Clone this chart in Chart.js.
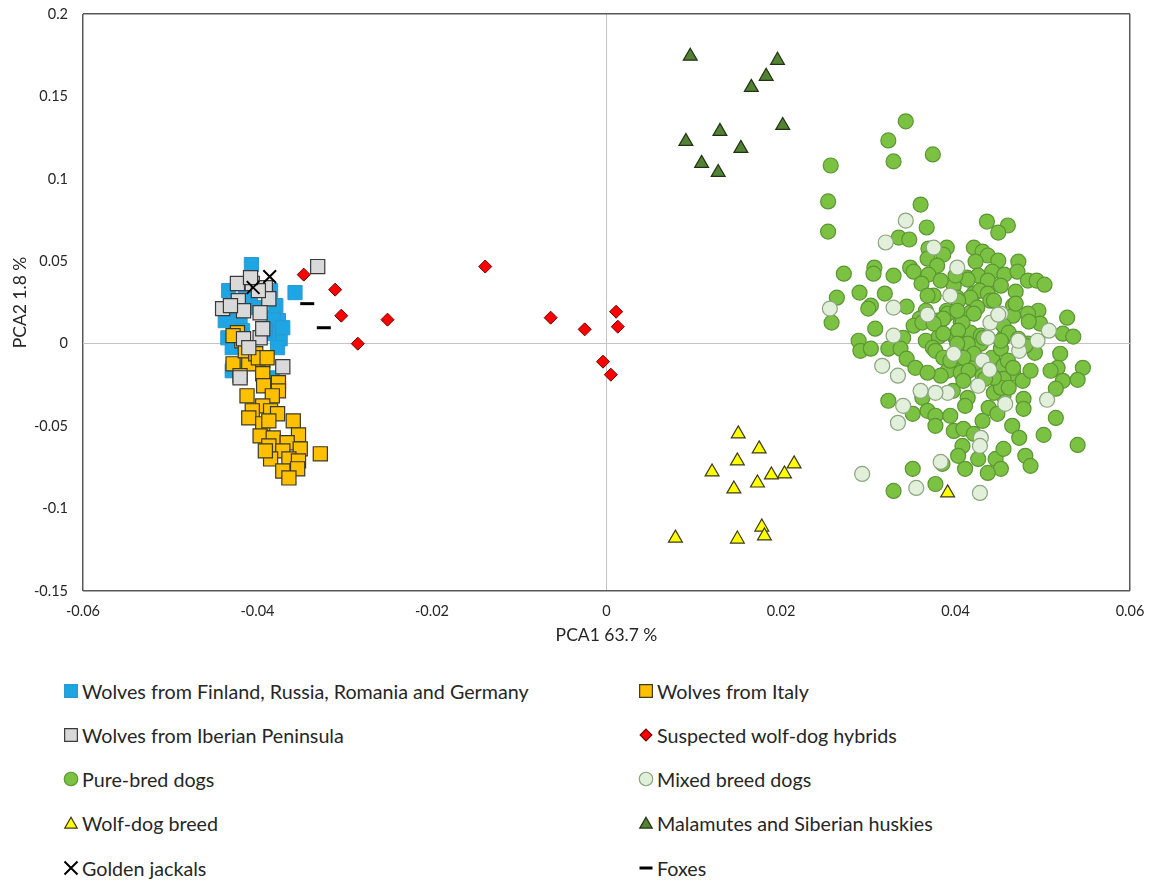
<!DOCTYPE html>
<html>
<head>
<meta charset="UTF-8">
<title>PCA - wolves, dogs and hybrids</title>
<script src="https://cdn.jsdelivr.net/npm/chart.js"></script>
<style>
  body { margin: 0; background: #fff; font-family: Lato, sans-serif; color: #262626; }
  #wrap { position: relative; width: 1150px; height: 881px; }
  #pca { position: absolute; left: 0; top: 0; }
  .item { position: absolute; display: flex; align-items: center; height: 26px; font-size: 19.7px; white-space: nowrap; }
  .item canvas { margin-right: 1px; }
</style>
</head>
<body>
<div id="wrap">
  <canvas id="pca" width="1150" height="660"></canvas>
  <div id="legend"></div>
</div>
<script>
// PCA1 / PCA2 scores
const wolvesNorth = [
  [-0.0407, 0.0480], [-0.0433, 0.0322], [-0.0437, 0.0140], [-0.0434, 0.0036], [-0.0429, -0.0024],
  [-0.0374, 0.0030], [-0.0376, 0.0140], [-0.0382, 0.0158], [-0.0387, 0.0061], [-0.0377, -0.0024],
  [-0.0383, -0.0207], [-0.0428, -0.0146], [-0.0408, 0.0261], [-0.0399, 0.0219], [-0.0391, 0.0079],
  [-0.0420, 0.0158], [-0.0371, 0.0097], [-0.0428, 0.0219], [-0.0417, 0.0079], [-0.0429, -0.0164],
  [-0.0357, 0.0310], [-0.0379, 0.0231], [-0.0414, 0.0352], [-0.0385, 0.0322]
];
const wolvesItaly = [
  [-0.0428, -0.0122], [-0.0410, -0.0122], [-0.0394, -0.0103], [-0.0394, -0.0182], [-0.0420, -0.0194],
  [-0.0376, -0.0237], [-0.0393, -0.0255], [-0.0412, -0.0316], [-0.0376, -0.0286], [-0.0383, -0.0316],
  [-0.0394, -0.0377], [-0.0406, -0.0407], [-0.0385, -0.0407], [-0.0377, -0.0425], [-0.0410, -0.0450],
  [-0.0394, -0.0486], [-0.0359, -0.0468], [-0.0387, -0.0468], [-0.0397, -0.0559], [-0.0382, -0.0571],
  [-0.0353, -0.0553], [-0.0366, -0.0601], [-0.0387, -0.0620], [-0.0351, -0.0638], [-0.0328, -0.0668],
  [-0.0371, -0.0650], [-0.0385, -0.0699], [-0.0364, -0.0699], [-0.0353, -0.0711], [-0.0371, -0.0772],
  [-0.0354, -0.0759], [-0.0364, -0.0814], [-0.0391, -0.0650], [-0.0423, 0.0067], [-0.0418, 0.0018],
  [-0.0414, -0.0043], [-0.0402, -0.0061], [-0.0399, -0.0085], [-0.0389, -0.0085], [-0.0428, 0.0049]
];
const wolvesIberia = [
  [-0.0423, 0.0365], [-0.0406, 0.0365], [-0.0391, 0.0340], [-0.0387, 0.0273], [-0.0422, 0.0261],
  [-0.0440, 0.0213], [-0.0416, 0.0200], [-0.0397, 0.0188], [-0.0431, 0.0231], [-0.0397, 0.0036],
  [-0.0416, 0.0030], [-0.0410, -0.0024], [-0.0371, -0.0140], [-0.0420, -0.0207], [-0.0399, 0.0322],
  [-0.0408, 0.0401], [-0.0394, 0.0091], [-0.0331, 0.0468]
];
const hybrids = [
  [-0.0347, 0.0419], [-0.0311, 0.0328], [-0.0304, 0.0170], [-0.0251, 0.0146], [-0.0285, 0.0000],
  [-0.0139, 0.0468], [-0.0064, 0.0158], [-0.0025, 0.0087], [0.0011, 0.0194], [0.0013, 0.0103],
  [-0.0004, -0.0109], [0.0005, -0.0188]
];
const pureBred = [
  [0.0343, 0.1349], [0.0323, 0.1233], [0.0257, 0.1081], [0.0329, 0.1106], [0.0374, 0.1148],
  [0.0254, 0.0863], [0.0360, 0.0844], [0.0254, 0.0680], [0.0367, 0.0705], [0.0436, 0.0741],
  [0.0460, 0.0717], [0.0449, 0.0674], [0.0335, 0.0644], [0.0347, 0.0632], [0.0369, 0.0577],
  [0.0390, 0.0583], [0.0386, 0.0541], [0.0421, 0.0583], [0.0431, 0.0559], [0.0437, 0.0535],
  [0.0423, 0.0498], [0.0449, 0.0504], [0.0472, 0.0498], [0.0368, 0.0516], [0.0379, 0.0474],
  [0.0272, 0.0425], [0.0307, 0.0462], [0.0306, 0.0425], [0.0329, 0.0413], [0.0348, 0.0462],
  [0.0352, 0.0437], [0.0369, 0.0419], [0.0413, 0.0401], [0.0426, 0.0413], [0.0442, 0.0437],
  [0.0456, 0.0419], [0.0471, 0.0437], [0.0483, 0.0383], [0.0493, 0.0383], [0.0502, 0.0358],
  [0.0361, 0.0365], [0.0398, 0.0352], [0.0414, 0.0389], [0.0437, 0.0383], [0.0290, 0.0310],
  [0.0319, 0.0304], [0.0264, 0.0279], [0.0375, 0.0292], [0.0421, 0.0304], [0.0428, 0.0322],
  [0.0437, 0.0304], [0.0469, 0.0316], [0.0528, 0.0158], [0.0495, 0.0200], [0.0483, 0.0182],
  [0.0466, 0.0231], [0.0440, 0.0261], [0.0417, 0.0279], [0.0402, 0.0279], [0.0366, 0.0200],
  [0.0359, 0.0152], [0.0352, 0.0109], [0.0344, 0.0225], [0.0390, 0.0200], [0.0403, 0.0261],
  [0.0406, 0.0128], [0.0417, 0.0188], [0.0425, 0.0219], [0.0455, 0.0158], [0.0466, 0.0170],
  [0.0523, 0.0061], [0.0535, 0.0043], [0.0497, 0.0122], [0.0484, 0.0134], [0.0340, 0.0036],
  [0.0366, 0.0018], [0.0381, 0.0043], [0.0400, 0.0036], [0.0417, 0.0067], [0.0429, 0.0049],
  [0.0455, 0.0036], [0.0483, 0.0000], [0.0491, -0.0055], [0.0520, -0.0061], [0.0323, -0.0030],
  [0.0337, -0.0030], [0.0374, -0.0024], [0.0429, 0.0000], [0.0409, -0.0024], [0.0258, 0.0128],
  [0.0303, 0.0231], [0.0300, 0.0213], [0.0308, 0.0091], [0.0289, 0.0018], [0.0291, -0.0043],
  [0.0303, -0.0030], [0.0344, -0.0091], [0.0354, -0.0146], [0.0323, -0.0346], [0.0351, -0.0425],
  [0.0362, 0.0128], [0.0379, 0.0140], [0.0391, 0.0182], [0.0377, -0.0043], [0.0386, -0.0085],
  [0.0400, 0.0049], [0.0414, 0.0000], [0.0421, 0.0182], [0.0408, 0.0128], [0.0397, -0.0134],
  [0.0391, -0.0164], [0.0406, -0.0176], [0.0421, -0.0146], [0.0442, -0.0085], [0.0452, -0.0030],
  [0.0455, -0.0134], [0.0466, -0.0182], [0.0480, -0.0012], [0.0469, 0.0243], [0.0517, -0.0146],
  [0.0509, -0.0164], [0.0523, -0.0225], [0.0515, -0.0273], [0.0546, -0.0146], [0.0540, -0.0219],
  [0.0515, -0.0450], [0.0501, -0.0553], [0.0540, -0.0614], [0.0477, -0.0225], [0.0486, -0.0164],
  [0.0478, -0.0334], [0.0478, -0.0395], [0.0455, -0.0316], [0.0444, -0.0298], [0.0438, -0.0389],
  [0.0448, -0.0425], [0.0431, -0.0468], [0.0414, -0.0328], [0.0411, -0.0377], [0.0397, -0.0286],
  [0.0362, -0.0328], [0.0368, -0.0407], [0.0377, -0.0437], [0.0377, -0.0498], [0.0394, -0.0437],
  [0.0398, -0.0529], [0.0409, -0.0516], [0.0421, -0.0547], [0.0408, -0.0620], [0.0403, -0.0680],
  [0.0411, -0.0759], [0.0426, -0.0699], [0.0446, -0.0699], [0.0455, -0.0638], [0.0452, -0.0759],
  [0.0437, -0.0784], [0.0465, -0.0498], [0.0473, -0.0571], [0.0480, -0.0680], [0.0486, -0.0741],
  [0.0385, -0.0729], [0.0351, -0.0759], [0.0377, -0.0851], [0.0329, -0.0893], [0.0444, 0.0261],
  [0.0402, 0.0200], [0.0386, 0.0152], [0.0403, 0.0079], [0.0455, 0.0109], [0.0461, 0.0067],
  [0.0472, 0.0030], [0.0452, 0.0018], [0.0432, 0.0036], [0.0421, -0.0061], [0.0409, -0.0085],
  [0.0415, -0.0164], [0.0431, -0.0194], [0.0455, -0.0213], [0.0452, -0.0267], [0.0444, -0.0207],
  [0.0461, -0.0267], [0.0368, 0.0292], [0.0375, 0.0122], [0.0386, 0.0061], [0.0402, 0.0000],
  [0.0394, -0.0103], [0.0460, -0.0103], [0.0466, -0.0146], [0.0434, -0.0213], [0.0409, -0.0225],
  [0.0383, -0.0194], [0.0368, -0.0176], [0.0383, 0.0383], [0.0400, 0.0413], [0.0452, 0.0352]
];
const mixedBreed = [
  [0.0343, 0.0747], [0.0320, 0.0614], [0.0375, 0.0583], [0.0402, 0.0462], [0.0394, 0.0292],
  [0.0256, 0.0213], [0.0329, 0.0219], [0.0329, 0.0049], [0.0316, -0.0134], [0.0334, -0.0194],
  [0.0340, -0.0377], [0.0334, -0.0480], [0.0368, 0.0176], [0.0398, -0.0061], [0.0437, 0.0036],
  [0.0440, 0.0128], [0.0452, 0.0182], [0.0431, -0.0103], [0.0439, -0.0158], [0.0473, -0.0043],
  [0.0494, 0.0018], [0.0507, 0.0079], [0.0505, -0.0340], [0.0457, -0.0365], [0.0426, -0.0255],
  [0.0391, -0.0298], [0.0377, -0.0298], [0.0360, -0.0286], [0.0429, -0.0571], [0.0428, -0.0620],
  [0.0383, -0.0717], [0.0293, -0.0790], [0.0355, -0.0875], [0.0428, -0.0905], [0.0449, 0.0176],
  [0.0472, 0.0018]
];
const wolfDogBreed = [
  [0.0151, -0.0547], [0.0175, -0.0638], [0.0150, -0.0711], [0.0121, -0.0778], [0.0215, -0.0729],
  [0.0204, -0.0790], [0.0189, -0.0796], [0.0173, -0.0845], [0.0146, -0.0881], [0.0391, -0.0905],
  [0.0178, -0.1112], [0.0181, -0.1166], [0.0079, -0.1179], [0.0150, -0.1185]
];
const huskies = [
  [0.0096, 0.1744], [0.0196, 0.1719], [0.0183, 0.1622], [0.0166, 0.1555], [0.0202, 0.1324],
  [0.0130, 0.1288], [0.0091, 0.1227], [0.0154, 0.1185], [0.0109, 0.1094], [0.0128, 0.1039]
];
const jackals = [[-0.0405, 0.0341], [-0.0386, 0.0407]];
const foxes = [[-0.0343, 0.0243], [-0.0324, 0.0097]];

const xTicks = [-0.06, 0.06, 0.02];
const yTicks = [-0.15, 0.2, 0.05];

const toXY = arr => arr.map(p => ({ x: p[0], y: p[1] }));

// legend order = row by row, two columns
const groups = [
  { label: 'Wolves from Finland, Russia, Romania and Germany', data: wolvesNorth, style: 'rect', r: 10, fill: '#1ea5e3', line: '#2b98cf', w: 1, order: 5 },
  { label: 'Wolves from Italy', data: wolvesItaly, style: 'rect', r: 10, fill: '#ffc000', line: '#3a3a2a', w: 1.2, order: 4 },
  { label: 'Wolves from Iberian Peninsula', data: wolvesIberia, style: 'rect', r: 10, fill: '#d9d9d9', line: '#3a3a3a', w: 1.2, order: 3 },
  { label: 'Suspected wolf-dog hybrids', data: hybrids, style: 'rectRot', r: 6.5, fill: '#ff0000', line: '#6b0000', w: 1, order: 2 },
  { label: 'Pure-bred dogs', data: pureBred, style: 'circle', r: 7.5, fill: '#7cc242', line: '#5b9634', w: 1.2, order: 9 },
  { label: 'Mixed breed dogs', data: mixedBreed, style: 'circle', r: 7.5, fill: '#e2efda', line: '#8ba67e', w: 1.2, order: 8 },
  { label: 'Wolf-dog breed', data: wolfDogBreed, style: 'triangle', r: 8, fill: '#ffff00', line: '#3a3a1a', w: 1.2, order: 6 },
  { label: 'Malamutes and Siberian huskies', data: huskies, style: 'triangle', r: 8, fill: '#548235', line: '#1f3310', w: 1.2, order: 7 },
  { label: 'Golden jackals', data: jackals, style: 'crossRot', r: 9, fill: '#000', line: '#000', w: 2, order: 0 },
  { label: 'Foxes', data: foxes, style: 'line', r: 7, fill: '#000', line: '#000', w: 3, order: 1 }
];

const isZero = v => Math.abs(v) < 1e-9;
function gridColor(c) {
  const n = c.scale.ticks.length - 1;
  if (c.index === 0 || c.index === n) return '#595959';
  if (isZero(c.tick.value)) return '#c4c4c4';
  return 'rgba(0,0,0,0)';
}
function gridWidth(c) {
  const n = c.scale.ticks.length - 1;
  return (c.index === 0 || c.index === n) ? 1.5 : 1;
}
const fmt = v => isZero(v) ? '0' : String(+v.toFixed(4));

new Chart(document.getElementById('pca'), {
  type: 'scatter',
  data: {
    datasets: groups.map(g => ({
      label: g.label,
      data: toXY(g.data),
      pointStyle: g.style,
      pointRadius: g.r,
      pointHoverRadius: g.r,
      backgroundColor: g.fill,
      borderColor: g.line,
      borderWidth: g.w,
      order: g.order
    }))
  },
  options: {
    responsive: false,
    animation: false,
    layout: { padding: { top: 14, right: 20, left: 0, bottom: 0 } },
    plugins: { legend: { display: false }, tooltip: { enabled: false } },
    scales: {
      x: {
        type: 'linear',
        min: xTicks[0], max: xTicks[1],
        ticks: { stepSize: xTicks[2], callback: fmt, color: '#262626', font: { family: 'Lato', size: 14.5 }, padding: 12 },
        grid: { drawTicks: false, color: gridColor, lineWidth: gridWidth },
        border: { display: false },
        title: { display: true, text: 'PCA1 63.7 %', color: '#262626', font: { family: 'Lato', size: 17.5 }, padding: { top: 0, bottom: 14 } },
        afterFit: s => { s.height = 69; s.paddingLeft = 0; s.paddingRight = 0; }
      },
      y: {
        type: 'linear',
        min: yTicks[0], max: yTicks[1],
        ticks: { stepSize: yTicks[2], callback: fmt, color: '#262626', font: { family: 'Lato', size: 14.5 }, padding: 15 },
        grid: { drawTicks: false, color: gridColor, lineWidth: gridWidth },
        border: { display: false },
        title: { display: true, text: 'PCA2 1.8 %', color: '#262626', font: { family: 'Lato', size: 17.5 }, padding: { top: 10, bottom: 0 } },
        afterFit: s => { s.width = 83; s.paddingTop = 0; s.paddingBottom = 0; }
      }
    }
  }
});

// legend markers
function marker(g) {
  const cv = document.createElement('canvas');
  cv.width = 20; cv.height = 20;
  const ctx = cv.getContext('2d');
  const c = 10, r = g.r * 0.9;
  ctx.fillStyle = g.fill; ctx.strokeStyle = g.line;
  ctx.lineWidth = g.style === 'line' ? 3 : (g.style === 'crossRot' ? 2 : 1.2);
  ctx.beginPath();
  if (g.style === 'rect') {
    const s = r * Math.SQRT1_2;
    ctx.rect(c - s, c - s, 2 * s, 2 * s);
  } else if (g.style === 'rectRot') {
    ctx.moveTo(c, c - r); ctx.lineTo(c + r, c); ctx.lineTo(c, c + r); ctx.lineTo(c - r, c); ctx.closePath();
  } else if (g.style === 'circle') {
    ctx.arc(c, c, r, 0, Math.PI * 2);
  } else if (g.style === 'triangle') {
    for (let i = 0; i < 3; i++) {
      const a = i * 2 * Math.PI / 3;
      const px = c + Math.sin(a) * r, py = c + 1.5 - Math.cos(a) * r;
      i ? ctx.lineTo(px, py) : ctx.moveTo(px, py);
    }
    ctx.closePath();
  }
  if (g.style === 'crossRot') {
    ctx.moveTo(c - 6.5, c - 6.5); ctx.lineTo(c + 6.5, c + 6.5);
    ctx.moveTo(c + 6.5, c - 6.5); ctx.lineTo(c - 6.5, c + 6.5);
    ctx.stroke();
  } else if (g.style === 'line') {
    ctx.moveTo(c - 6.5, c); ctx.lineTo(c + 6.5, c); ctx.stroke();
  } else {
    ctx.fill(); ctx.stroke();
  }
  return cv;
}

const legend = document.getElementById('legend');
const rowY = [691, 735, 779, 823, 868];
groups.forEach((g, i) => {
  const it = document.createElement('div');
  it.className = 'item';
  it.style.left = (i % 2 ? 636 : 61) + 'px';
  it.style.top = (rowY[Math.floor(i / 2)] - 13) + 'px';
  it.appendChild(marker(g));
  const t = document.createElement('span');
  t.textContent = g.label;
  it.appendChild(t);
  legend.appendChild(it);
});
</script>
</body>
</html>
